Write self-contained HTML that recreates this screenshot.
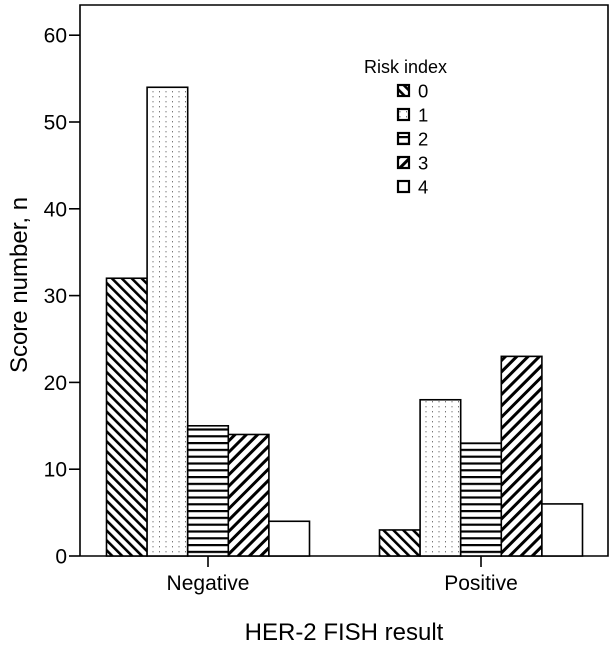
<!DOCTYPE html>
<html><head><meta charset="utf-8"><style>
body{margin:0;background:#fff;}
svg{display:block;font-family:"Liberation Sans",Arial,sans-serif;}
</style></head><body>
<svg id="chart" width="616" height="647">
<defs>
<pattern id="p0" width="7" height="7" patternUnits="userSpaceOnUse" patternTransform="rotate(-45)"><rect width="7" height="7" fill="#fff"/><rect x="0" y="0" width="2.6" height="7" fill="#000"/></pattern>
<pattern id="p1" width="6.5" height="5" patternUnits="userSpaceOnUse"><rect width="6.5" height="5" fill="#fff"/><rect x="3" y="1" width="1" height="1.4" fill="#777"/></pattern>
<pattern id="p2" width="6" height="6.8" patternUnits="userSpaceOnUse"><rect width="6" height="6.8" fill="#fff"/><rect x="0" y="0" width="6" height="2.2" fill="#000"/></pattern>
<pattern id="p3" width="8" height="8" patternUnits="userSpaceOnUse" patternTransform="rotate(45)"><rect width="8" height="8" fill="#fff"/><rect x="0" y="0" width="3" height="8" fill="#000"/></pattern>
<pattern id="p4" width="4" height="4" patternUnits="userSpaceOnUse"><rect width="4" height="4" fill="#fff"/></pattern>
</defs>
<g id="plot"></g>
</svg>
<script>
const categories=["Negative","Positive"];
const seriesNames=["0","1","2","3","4"];
const series0=[32,3];
const series1=[54,18];
const series2=[15,13];
const series3=[14,23];
const series4=[4,6];
const yTicks=[0,10,20,30,40,50,60];
const allSeries=[series0,series1,series2,series3,series4];
const NS="http://www.w3.org/2000/svg";
const g=document.getElementById('plot');
const X0=80,X1=608,Y0=556,TOP=5;
function y(v){return Y0-v*8.68;}
function catX(i){return 208+i*273;}
const BW=40.6;
function mk(t,a,p){const e=document.createElementNS(NS,t);for(const k in a)e.setAttribute(k,a[k]);(p||g).appendChild(e);return e;}
let fr=mk('path',{d:`M${X0},${Y0} V${TOP} H${X1} V${Y0} H${X0}`,fill:'none',stroke:'#000','stroke-width':1.6});


yTicks.forEach(v=>{
 const t=mk('line',{x1:69,x2:X0,y1:y(v),y2:y(v),stroke:'#000','stroke-width':1.6});
 
 
 const l=mk('text',{x:67,y:y(v)+7.5,'text-anchor':'end','font-size':21});
 l.textContent=v;
 
 
});
categories.forEach((c,i)=>{
 const cx=catX(i);
 allSeries.forEach((s,j)=>{
  const x=cx-2.5*BW+j*BW;
  const r=mk('rect',{x:x,y:y(s[i]),width:BW,height:Y0-y(s[i]),fill:`url(#p${j})`,stroke:'#000','stroke-width':1.6});
  
  
 });
 const t=mk('line',{x1:cx,x2:cx,y1:Y0,y2:Y0+11,stroke:'#000','stroke-width':1.6});
 
 
 const l=mk('text',{x:cx,y:590,'text-anchor':'middle','font-size':21});
 l.textContent=c;
 
 
});
let xt=mk('text',{x:344,y:640,'text-anchor':'middle','font-size':24});
xt.textContent='HER-2 FISH result';


let yt=mk('text',{x:0,y:0,'text-anchor':'middle','font-size':24,transform:'translate(27,285) rotate(-90)'});
yt.textContent='Score number, n';


let lt=mk('text',{x:364,y:73,'font-size':18});
lt.textContent='Risk index';


seriesNames.forEach((n,j)=>{
 const yy=91+j*24;
 const r=mk('rect',{x:398,y:yy-6,width:11,height:11,fill:`url(#p${j})`,stroke:'#000','stroke-width':2.2});
 
 
 const l=mk('text',{x:418,y:yy+6.5,'font-size':18.5});
 l.textContent=n;
 
 
});
</script>
</body></html>
